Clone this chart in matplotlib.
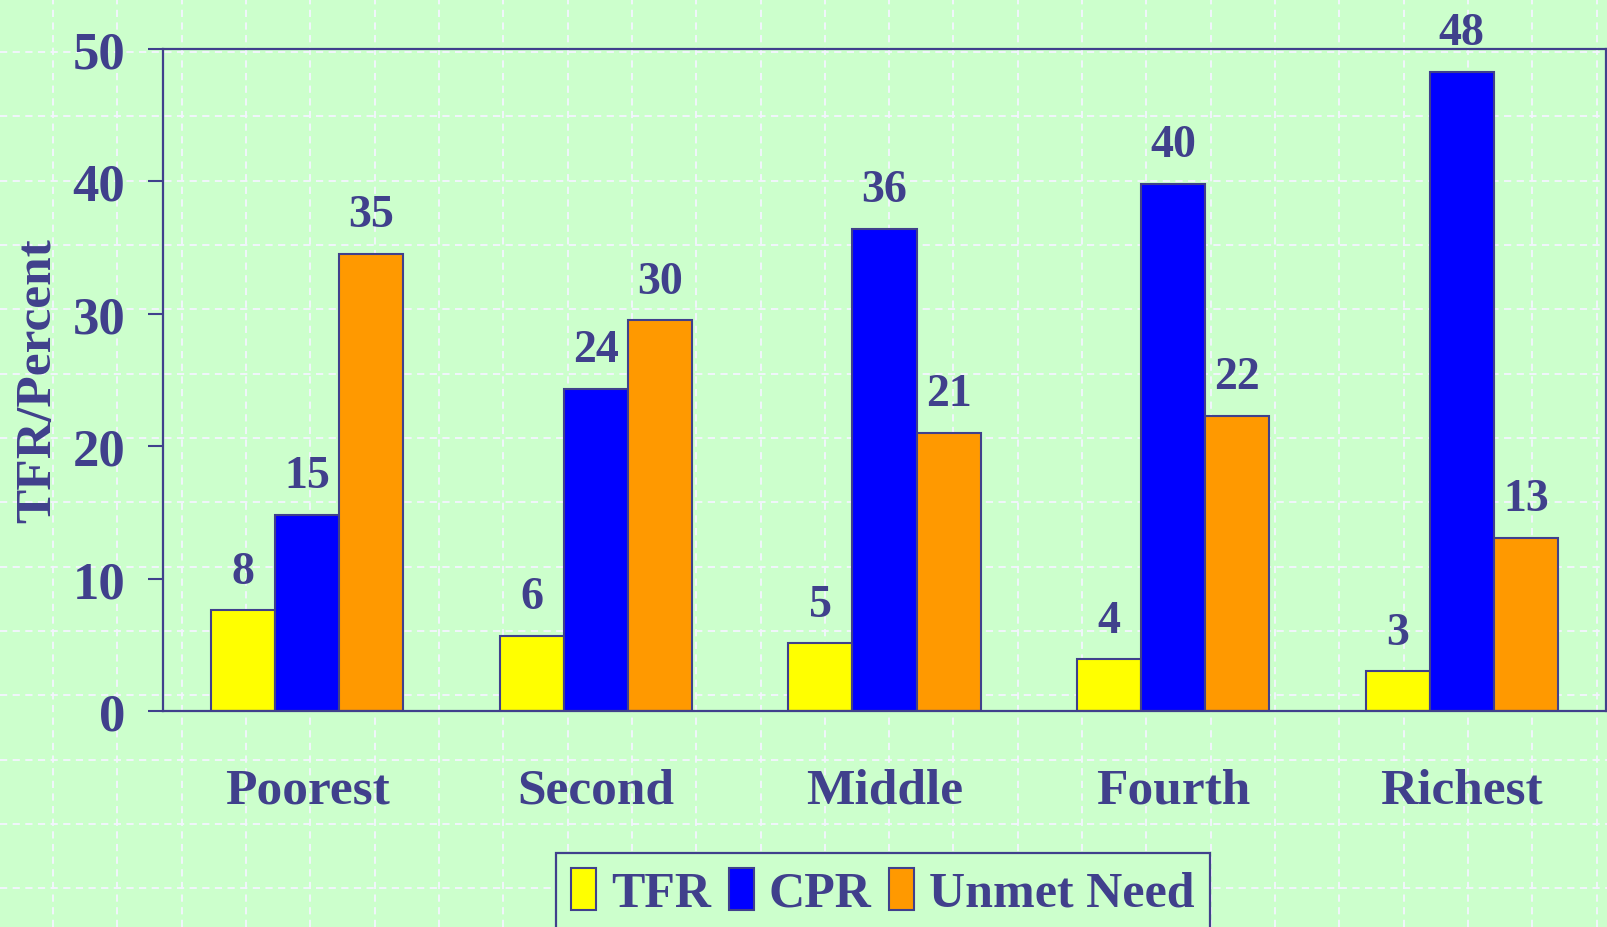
import numpy as np
import matplotlib
matplotlib.use('Agg')
import matplotlib.pyplot as plt
from matplotlib.patches import Patch

categories = ['Poorest', 'Second', 'Middle', 'Fourth', 'Richest']
tfr = [7.6, 5.7, 5.1, 3.9, 3.0]
cpr = [14.8, 24.3, 36.4, 39.8, 48.3]
unmet = [34.5, 29.5, 21.0, 22.3, 13.1]
tfr_lbl = ['8', '6', '5', '4', '3']
cpr_lbl = ['15', '24', '36', '40', '48']
unmet_lbl = ['35', '30', '21', '22', '13']
series_names = ['TFR', 'CPR', 'Unmet Need']
yticks = [0, 10, 20, 30, 40, 50]

txt = '#40408C'
bg = '#CCFFCC'
colors = ['#FFFF00', '#0000FF', '#FF9900']

plt.rcParams['font.family'] = ['Liberation Serif', 'DejaVu Serif']
plt.rcParams['font.weight'] = 'bold'

W, H = 1608, 928
fig = plt.figure(figsize=(W / 100, H / 100), dpi=100, facecolor=bg)

# slide background: white dashed grid
bgax = fig.add_axes([0, 0, 1, 1], zorder=0)
bgax.set_xlim(0, W)
bgax.set_ylim(H, 0)
bgax.axis('off')
step = 64.32
for k in range(26):
    p = 53 + step * (k - 1)
    bgax.axvline(p, color='#F4F4FF', lw=1.3, ls=(0, (4, 3)))
    bgax.axhline(p, color='#F4F4FF', lw=1.3, ls=(0, (4, 3)))

ax = fig.add_axes([163 / W, 1 - 712 / H, (1606 - 163) / W, (712 - 50) / H], zorder=1)
ax.patch.set_alpha(0)

x = np.arange(len(categories))
w = 0.222
for vals, lbls, col, off in zip([tfr, cpr, unmet], [tfr_lbl, cpr_lbl, unmet_lbl], colors, [-w, 0, w]):
    ax.bar(x + off, vals, w, color=col, edgecolor=txt, linewidth=1.5)
    for xi, v, l in zip(x + off, vals, lbls):
        ax.annotate(l, (xi, v), xytext=(0, 20), textcoords='offset points',
                    ha='center', va='baseline', fontsize=33, color=txt, fontweight='bold')

ax.set_xlim(-0.5, len(categories) - 0.5)
ax.set_ylim(0, 50)
ax.set_yticks(yticks)
ax.set_xticks(x)
ax.set_xticklabels(categories)
ax.tick_params(axis='x', length=0, pad=41, labelsize=37, labelcolor=txt)
ax.tick_params(axis='y', length=11, width=1.5, color=txt, pad=16, labelsize=38, labelcolor=txt)
for s in ax.spines.values():
    s.set_color(txt)
    s.set_linewidth(1.6)
ax.set_ylabel('TFR/Percent', fontsize=37, color=txt, fontweight='bold', labelpad=8)

handles = [Patch(facecolor=c, edgecolor=txt, linewidth=1.5) for c in colors]
leg = fig.legend(handles, series_names, loc='upper center', bbox_to_anchor=(883 / W, 1 - 854 / H),
                 ncol=3, fontsize=36, frameon=True, fancybox=False, facecolor=bg, framealpha=1,
                 edgecolor=txt, handlelength=0.5, handleheight=0.9, handletextpad=0.3,
                 columnspacing=0.35, borderpad=0.3, borderaxespad=0)
leg.get_frame().set_linewidth(1.6)
for t in leg.get_texts():
    t.set_color(txt)

fig.savefig('out.png', dpi=100, facecolor=bg)
